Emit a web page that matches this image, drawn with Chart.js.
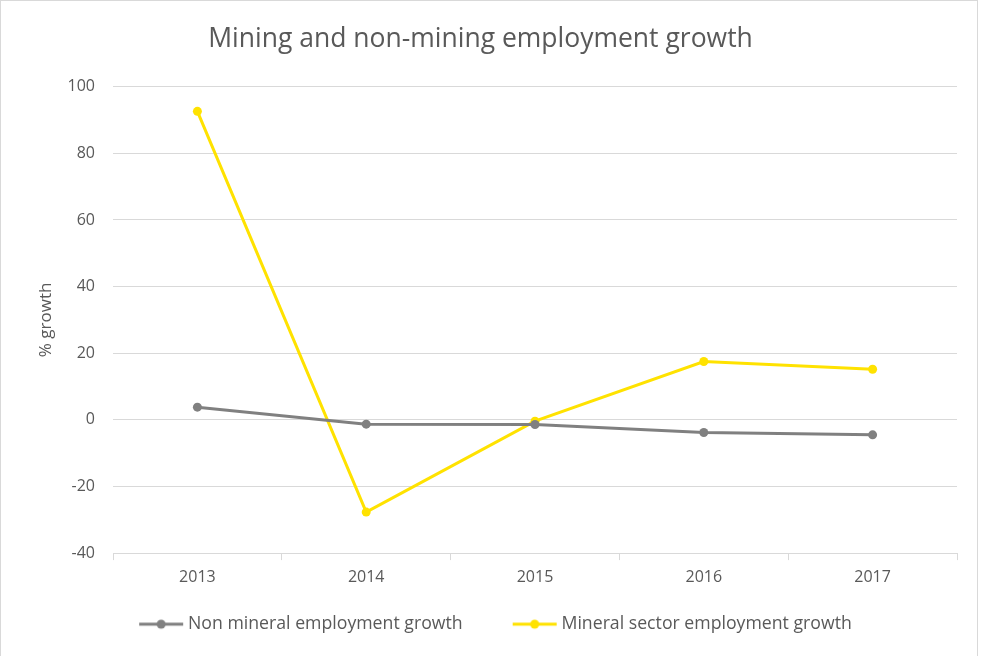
<!DOCTYPE html>
<html>
<head>
<meta charset="utf-8">
<script src="https://cdn.jsdelivr.net/npm/chart.js@4/dist/chart.umd.min.js"></script>
<style>
html,body{margin:0;padding:0;background:#fff;}
#wrap{position:relative;width:981px;height:656px;}
</style>
</head>
<body>
<div id="wrap"><canvas id="c" width="981" height="656"></canvas></div>
<script>
const categories = ['2013', '2014', '2015', '2016', '2017'];
const nonMineral = [3.8, -1.3, -1.4, -3.8, -4.5];
const mineral = [92.6, -27.7, -0.4, 17.5, 15.2];
const yTicks = { min: -40, max: 100, step: 20 };

const GRAY = '#808080';
const YELLOW = '#FFE200';
const TEXT = '#595959';
const GRID = '#d9d9d9';
const FONT = "'Open Sans', 'Liberation Sans', sans-serif";

function legendIcon(color) {
  const cv = document.createElement('canvas');
  cv.width = 80; cv.height = 12;
  const g = cv.getContext('2d');
  g.strokeStyle = color; g.lineWidth = 3;
  g.beginPath(); g.moveTo(35, 6); g.lineTo(79, 6); g.stroke();
  g.fillStyle = color;
  g.beginPath(); g.arc(57, 6, 4.5, 0, Math.PI * 2); g.fill();
  return cv;
}

const framePlugin = {
  id: 'frame',
  beforeDraw(chart) {
    const ctx = chart.ctx;
    ctx.save();
    ctx.fillStyle = '#fff';
    ctx.fillRect(0, 0, chart.width, chart.height);
    ctx.strokeStyle = GRID;
    ctx.lineWidth = 1;
    ctx.strokeRect(0.5, 0.5, chart.width - 4, chart.height + 2);
    ctx.restore();
  }
};

new Chart(document.getElementById('c'), {
  type: 'line',
  data: {
    labels: categories,
    datasets: [
      {
        label: 'Non mineral employment growth',
        data: nonMineral,
        borderColor: GRAY, backgroundColor: GRAY,
        borderWidth: 3, pointRadius: 4.5, pointHoverRadius: 4.5,
        pointBackgroundColor: GRAY, pointBorderWidth: 0, tension: 0
      },
      {
        label: 'Mineral sector employment growth',
        data: mineral,
        borderColor: YELLOW, backgroundColor: YELLOW,
        borderWidth: 3, pointRadius: 4.5, pointHoverRadius: 4.5,
        pointBackgroundColor: YELLOW, pointBorderWidth: 0, tension: 0
      }
    ]
  },
  options: {
    responsive: false,
    animation: false,
    devicePixelRatio: 1,
    layout: { padding: { left: 4, right: 24, top: 0, bottom: 13 } },
    plugins: {
      title: {
        display: true,
        text: 'Mining and non-mining employment growth',
        color: TEXT,
        font: { family: FONT, size: 26.5, weight: 'normal' },
        padding: { top: 23.6, bottom: 31.3 }
      },
      legend: {
        position: 'bottom',
        labels: {
          color: TEXT,
          font: { family: FONT, size: 17.7 },
          usePointStyle: true,
          pointStyleWidth: 70,
          padding: 20,
          generateLabels(chart) {
            return chart.data.datasets.map((ds, i) => ({
              text: ds.label,
              fillStyle: ds.borderColor,
              strokeStyle: ds.borderColor,
              fontColor: TEXT,
              pointStyle: legendIcon(ds.borderColor),
              lineWidth: 0,
              hidden: false,
              datasetIndex: i
            }));
          }
        }
      },
      tooltip: { enabled: false }
    },
    scales: {
      x: {
        offset: true,
        grid: { display: true, offset: true, drawOnChartArea: false, drawTicks: true, tickLength: 7, color: GRID },
        border: { display: true, color: GRID, width: 1 },
        ticks: { color: TEXT, font: { family: FONT, size: 16 }, padding: 8 }
      },
      y: {
        min: yTicks.min, max: yTicks.max,
        ticks: { stepSize: yTicks.step, color: TEXT, font: { family: FONT, size: 16 }, padding: 18 },
        grid: { color: GRID, drawTicks: false },
        border: { display: false },
        title: { display: true, text: '% growth', color: TEXT, font: { family: FONT, size: 17 }, padding: { top: 31.8, bottom: 0 } },
        afterFit(s) { s.width = 109; }
      }
    }
  },
  plugins: [framePlugin]
});
</script>
</body>
</html>
